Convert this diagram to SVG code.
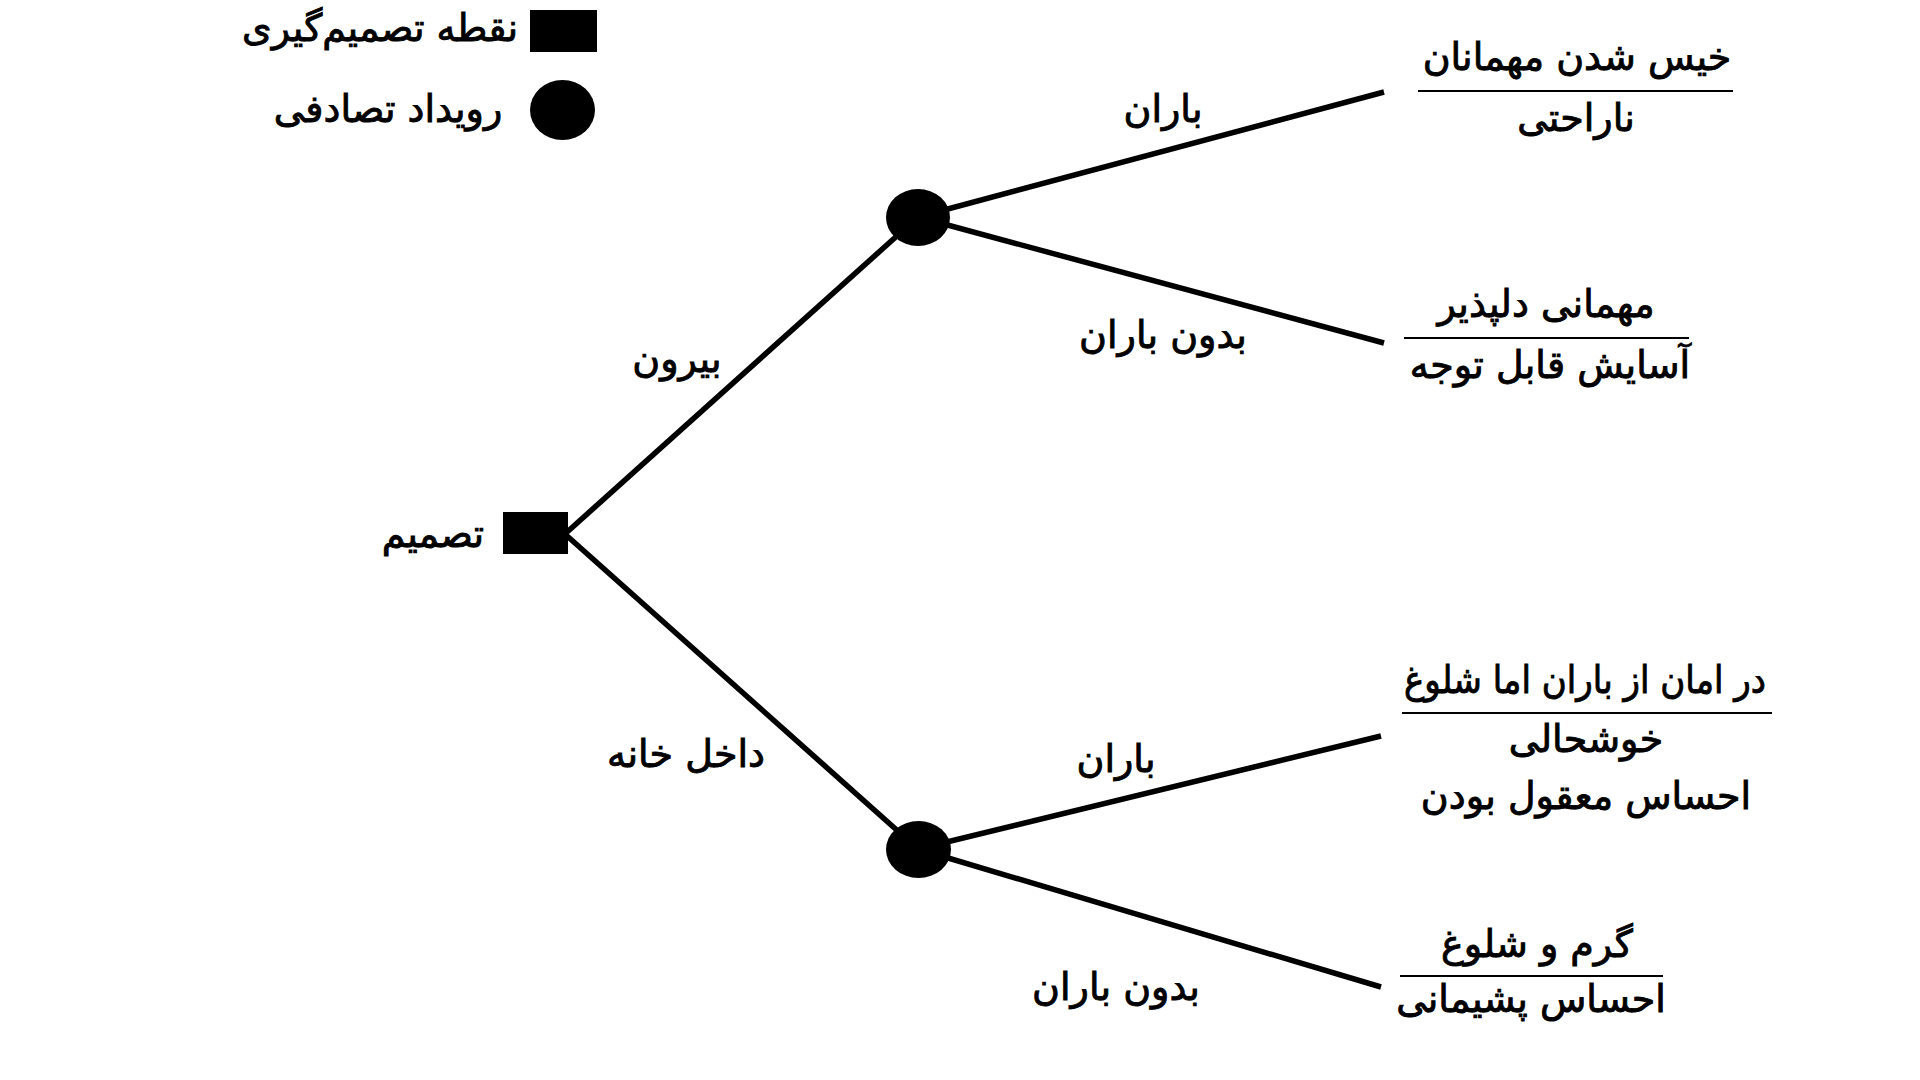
<svg xmlns="http://www.w3.org/2000/svg" width="1920" height="1080" viewBox="0 0 1920 1080">
<style>
  .t { font-family: "DejaVu Sans", "Noto Sans", sans-serif; font-size: 38px; fill: #000; stroke: #000; stroke-width: 0.9; text-anchor: middle; direction: rtl; }
  .edge { stroke: #000; stroke-width: 5.5; fill: none; stroke-linecap: butt; }
  .rule { stroke: #000; stroke-width: 2; }
  .node { fill: #000; }
</style>
<rect width="1920" height="1080" fill="#fff"/>
<g id="legend">
  <rect class="node" x="530" y="10" width="67" height="42"/>
  <text class="t" x="380" y="41">نقطه تصمیم‌گیری</text>
  <ellipse class="node" cx="562.5" cy="110" rx="32.5" ry="30"/>
  <text class="t" x="388" y="122">رویداد تصادفی</text>
</g>
<g id="connectors">
  <line class="edge" x1="566" y1="533" x2="918" y2="217"/>
  <line class="edge" x1="566" y1="535" x2="918" y2="849"/>
  <line class="edge" x1="918" y1="217" x2="1384" y2="92"/>
  <line class="edge" x1="918" y1="217" x2="1384" y2="343"/>
  <line class="edge" x1="918" y1="849" x2="1381" y2="736"/>
  <line class="edge" x1="918" y1="849" x2="1381" y2="987"/>
  <text class="t" x="677" y="372">بیرون</text>
  <text class="t" x="686" y="767">داخل خانه</text>
  <text class="t" x="1163" y="122">باران</text>
  <text class="t" x="1163" y="348">بدون باران</text>
  <text class="t" x="1116" y="772">باران</text>
  <text class="t" x="1116" y="1000">بدون باران</text>
</g>
<g id="decision">
  <rect class="node" x="503" y="512" width="65" height="42"/>
  <text class="t" x="433" y="547">تصمیم</text>
</g>
<g id="chance-outside">
  <ellipse class="node" cx="918" cy="217.5" rx="32" ry="28.5"/>
</g>
<g id="chance-inside">
  <ellipse class="node" cx="918.5" cy="849.5" rx="32.5" ry="28.5"/>
</g>
<g id="outcome-1">
  <text class="t" x="1577" y="70">خیس شدن مهمانان</text>
  <line class="rule" x1="1418" y1="91" x2="1733" y2="91"/>
  <text class="t" x="1576" y="131">ناراحتی</text>
</g>
<g id="outcome-2">
  <text class="t" x="1546" y="317">مهمانی دلپذیر</text>
  <line class="rule" x1="1404" y1="338" x2="1689" y2="338"/>
  <text class="t" x="1550" y="378">آسایش قابل توجه</text>
</g>
<g id="outcome-3">
  <text class="t" x="1585" y="693" textLength="362" lengthAdjust="spacingAndGlyphs">در امان از باران اما شلوغ</text>
  <line class="rule" x1="1402" y1="713" x2="1772" y2="713"/>
  <text class="t" x="1586" y="752">خوشحالی</text>
  <text class="t" x="1586" y="809">احساس معقول بودن</text>
</g>
<g id="outcome-4">
  <text class="t" x="1537" y="957">گرم و شلوغ</text>
  <line class="rule" x1="1400" y1="976" x2="1663" y2="976"/>
  <text class="t" x="1531" y="1012">احساس پشیمانی</text>
</g>
</svg>
